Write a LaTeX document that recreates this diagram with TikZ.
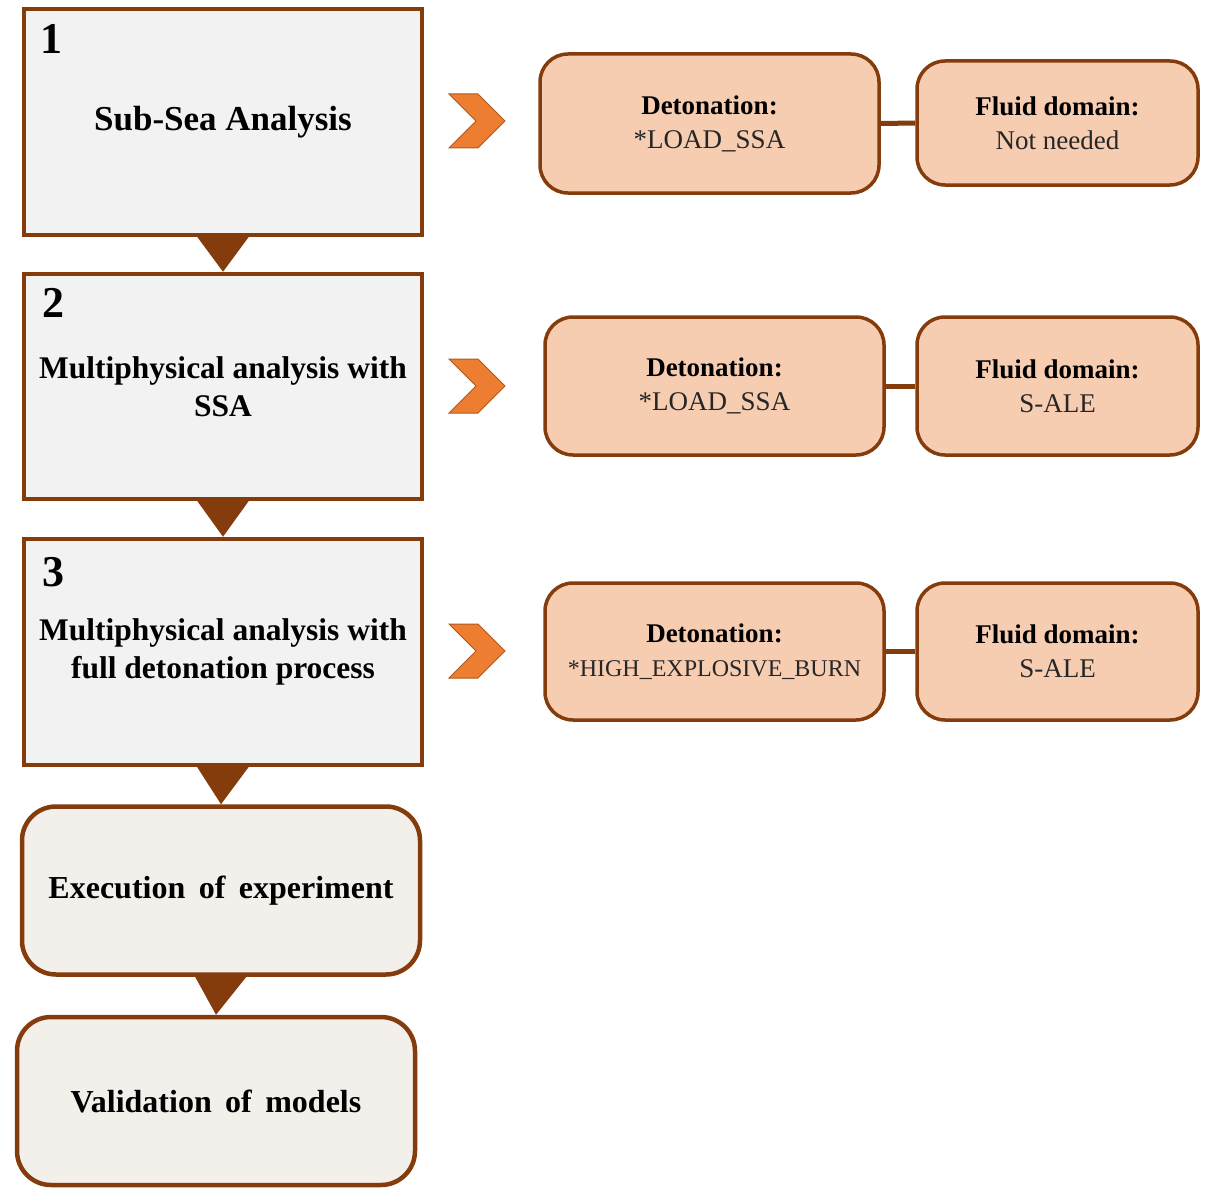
\documentclass[tikz,border=0pt]{standalone}
\usepackage{fontspec}
\setmainfont{Liberation Serif}
\usetikzlibrary{calc}

\definecolor{rim}{RGB}{132,60,12}
\definecolor{stepfill}{RGB}{242,242,242}
\definecolor{warmfill}{RGB}{243,239,235}
\definecolor{peach}{RGB}{247,205,178}
\definecolor{chevfill}{RGB}{237,125,49}
\definecolor{chevrim}{RGB}{174,90,33}
\definecolor{softtext}{RGB}{38,38,38}

\tikzset{
  mainbox/.style={draw=rim, line width=4.5pt, fill=stepfill, inner sep=0pt,
    minimum width=398pt, align=center, font=\fontsize{31.5}{38}\selectfont\bfseries},
  endbox/.style={mainbox, fill=warmfill, rounded corners=34pt, minimum height=168pt,
    font=\fontsize{32}{38}\selectfont\bfseries},
  infobox/.style={draw=rim, line width=3.5pt, fill=peach, rounded corners=28pt,
    inner sep=0pt, align=center, font=\fontsize{27}{34}\selectfont},
  detbox/.style={infobox, minimum width=339pt},
  fluidbox/.style={infobox, minimum width=281pt},
  num/.style={inner sep=0pt, font=\fontsize{44}{44}\selectfont\bfseries},
  link/.style={draw=rim, line width=5pt},
  drop/.style={fill=rim},
  chev/.pic={
    \path[fill=chevfill, draw=chevrim, line width=1pt, line join=miter]
      (-28,-27) -- (1,-27) -- (28,0) -- (1,27) -- (-28,27) -- (-1,0) -- cycle;
  }
}

\newcommand{\headline}[1]{{\bfseries\color{black}#1}}
\newcommand{\wsp}{\hspace{0.42em}}

\begin{document}
\begin{tikzpicture}[x=1pt, y=-1pt]
  \useasboundingbox (0,0) rectangle (1207,1188);

  % left column of steps
  \node[mainbox, minimum height=226pt, font=\fontsize{35}{42}\selectfont\bfseries]
    (s1) at (223,122) {Sub-Sea Analysis};
  \node[mainbox, minimum height=225pt] (s2) at (223,386.5)
    {Multiphysical analysis with\\SSA};
  \node[mainbox, minimum height=226pt] (s3) at (223,652)
    {Multiphysical analysis with\\full detonation process};
  \node[endbox] (s4) at (221,890.5) {Execution\wsp of\wsp experiment};
  \node[endbox] (s5) at (216,1101) {Validation\wsp of\wsp models};

  % step numbers
  \node[num] (n1) at (51,39) {1};
  \node[num] (n2) at (53,303) {2};
  \node[num] (n3) at (53,572) {3};

  % downward pointers between the steps
  \foreach \a/\b in {s1/s2, s2/s3, s3/s4, s4/s5}{
    \path[drop] ($(\a.south)+(-27,-2)$) -- ($(\a.south)+(27,-2)$) -- (\b.north) -- cycle;
  }

  % chevrons
  \pic at (477,121) {chev};
  \pic at (477,386) {chev};
  \pic at (477,651) {chev};

  % method boxes
  \node[detbox, minimum height=139pt] (d1) at (709.5,123.5)
    {\headline{Detonation:}\\\color{softtext}*LOAD\_SSA};
  \node[fluidbox, minimum height=124pt] (f1) at (1057.5,123)
    {\headline{Fluid domain:}\\\color{softtext}Not needed};

  \node[detbox, minimum height=138pt] (d2) at (714.5,386)
    {\headline{Detonation:}\\\color{softtext}*LOAD\_SSA};
  \node[fluidbox, minimum height=138pt] (f2) at (1057.5,386)
    {\headline{Fluid domain:}\\\color{softtext}S-ALE};

  \node[detbox, minimum height=137pt] (d3) at (714.5,651.5)
    {\headline{Detonation:}\\\color{softtext}\fontsize{24}{34}\selectfont *HIGH\_EXPLOSIVE\_BURN};
  \node[fluidbox, minimum height=137pt] (f3) at (1057.5,651.5)
    {\headline{Fluid domain:}\\\color{softtext}S-ALE};

  % links between method boxes
  \draw[link] (d1.east) -- (f1.west);
  \draw[link] (d2.east) -- (f2.west);
  \draw[link] (d3.east) -- (f3.west);
\end{tikzpicture}
\end{document}
